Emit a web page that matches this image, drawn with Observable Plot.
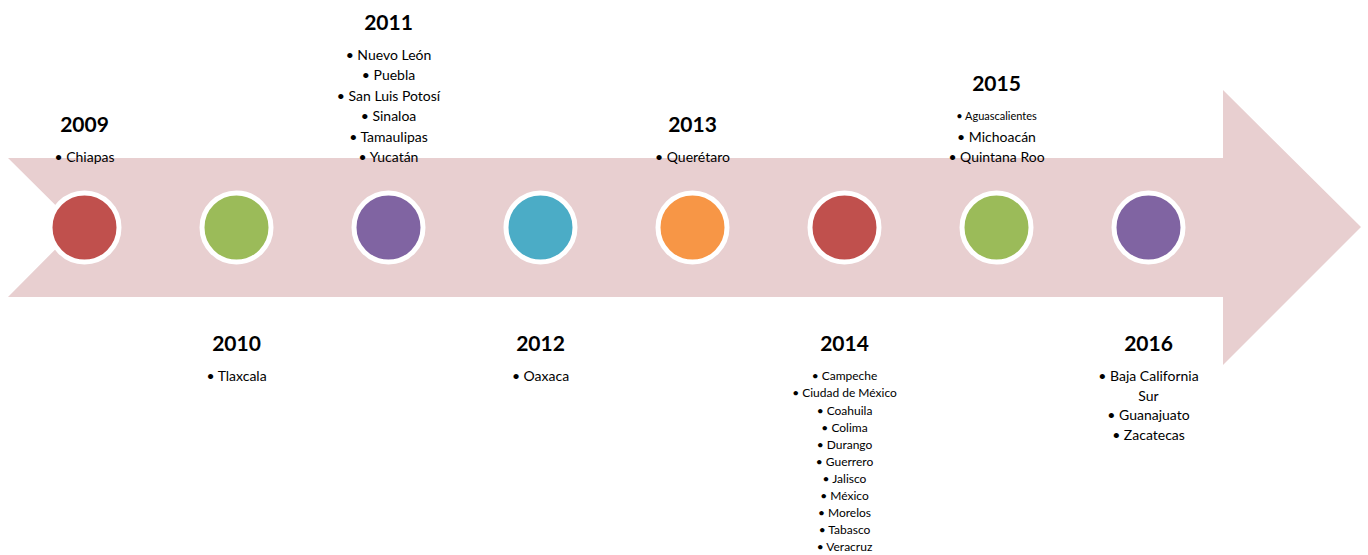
<!DOCTYPE html>
<html>
<head>
<meta charset="utf-8">
<script src="https://cdn.jsdelivr.net/npm/d3@7"></script>
<script src="https://cdn.jsdelivr.net/npm/@observablehq/plot@0.6"></script>
<style>
  html, body { margin: 0; padding: 0; background: #fff; }
  #chart svg { display: block; }
</style>
</head>
<body>
<div id="chart"></div>
<script>
// ---- data ----
const years = ["2009", "2010", "2011", "2012", "2013", "2014", "2015", "2016"];
const colors = ["#C0504D", "#9BBB59", "#8064A2", "#4BACC6", "#F79646", "#C0504D", "#9BBB59", "#8064A2"];
const states = [
  ["Chiapas"],
  ["Tlaxcala"],
  ["Nuevo León", "Puebla", "San Luis Potosí", "Sinaloa", "Tamaulipas", "Yucatán"],
  ["Oaxaca"],
  ["Querétaro"],
  ["Campeche", "Ciudad de México", "Coahuila", "Colima", "Durango", "Guerrero", "Jalisco", "México", "Morelos", "Tabasco", "Veracruz"],
  ["Aguascalientes", "Michoacán", "Quintana Roo"],
  ["Baja California", "Guanajuato", "Zacatecas"]
];

// ---- layout ----
const W = 1368, H = 555;
const midY = 227;
const topItemY = 157, bottomItemY = 376;
const yearGap = 32;
const font = "Lato, 'Open Sans', sans-serif";

// build text lines
const yearRows = [];
const itemRows = [];
years.forEach((yr, i) => {
  const top = i % 2 === 0;
  const small = yr === "2014";
  const step = small ? 17.1 : (yr === "2016" ? 19.7 : 20.4);
  const lines = [];
  states[i].forEach(s => {
    if (s === "Baja California") {
      lines.push({text: "• Baja California", size: 14});
      lines.push({text: "Sur", size: 14});
    } else {
      lines.push({text: "• " + s, size: small ? 12 : (s === "Aguascalientes" ? 11 : 14)});
    }
  });
  const n = lines.length;
  lines.forEach((l, k) => {
    const y = top ? topItemY - (n - 1 - k) * step : bottomItemY + k * step;
    itemRows.push({year: yr, text: l.text, size: l.size, y});
  });
  const firstY = top ? topItemY - (n - 1) * step : bottomItemY;
  yearRows.push({year: yr, y: firstY - yearGap});
});

const dots = years.map((y, i) => ({year: y, color: colors[i]}));

// arrow shape as render mark
function arrowMark(index, scales, values, dims) {
  const left = 8, right = W - 7;
  const bodyTop = 158, bodyBot = 297;
  const notch = (bodyBot - bodyTop) / 2;
  const headX = 1223, headTop = 90, headBot = 365;
  const pts = [
    [left, bodyTop], [headX, bodyTop], [headX, headTop], [right, midY],
    [headX, headBot], [headX, bodyBot], [left, bodyBot], [left + notch, midY]
  ];
  const path = d3.create("svg:path")
    .attr("d", "M" + pts.map(p => p.join(",")).join("L") + "Z")
    .attr("fill", "#E8CFD0");
  return path.node();
}

const sizes = [...new Set(itemRows.map(d => d.size))];

const chart = Plot.plot({
  width: W,
  height: H,
  margin: 0,
  x: {type: "point", domain: years, range: [81, 1150], padding: 0, axis: null},
  y: {type: "identity", axis: null},
  marks: [
    arrowMark,
    Plot.dot(dots, {x: "year", y: () => midY, r: 34.5, fill: "color", stroke: "white", strokeWidth: 5}),
    Plot.text(yearRows, {x: "year", y: "y", text: "year", fontSize: 21, fontWeight: "bold", fontFamily: font, fill: "#000"}),
    ...sizes.map(s => Plot.text(itemRows.filter(d => d.size === s), {x: "year", y: "y", text: "text", fontSize: s, fontFamily: font, fill: "#000"}))
  ]
});
document.getElementById("chart").appendChild(chart);
</script>
</body>
</html>
